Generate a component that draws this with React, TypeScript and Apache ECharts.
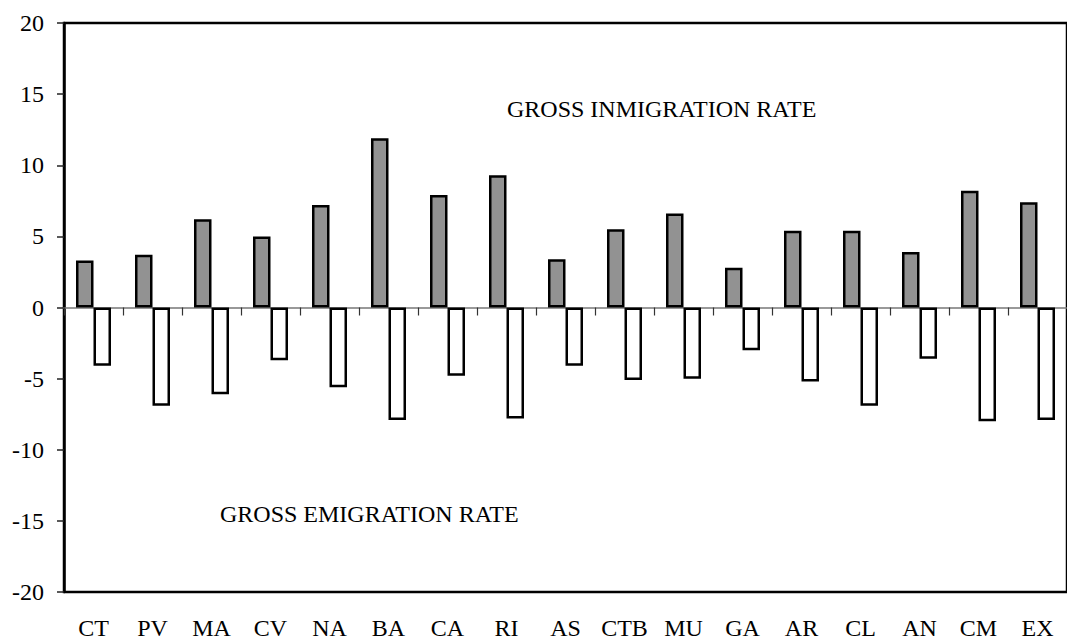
import React, { useEffect, useRef } from "react";
import * as echarts from "echarts";

const categories = ["CT", "PV", "MA", "CV", "NA", "BA", "CA", "RI", "AS", "CTB", "MU", "GA", "AR", "CL", "AN", "CM", "EX"];
const inmigration = [3.3, 3.7, 6.2, 5.0, 7.2, 11.9, 7.9, 9.3, 3.4, 5.5, 6.6, 2.8, 5.4, 5.4, 3.9, 8.2, 7.4];
const emigration = [-4.1, -6.9, -6.1, -3.7, -5.6, -7.9, -4.8, -7.8, -4.1, -5.1, -5.0, -3.0, -5.2, -6.9, -3.6, -8.0, -7.9];
const yTicks = { min: -20, max: 20, interval: 5 };
const inmigrationLabel = "GROSS INMIGRATION RATE";
const emigrationLabel = "GROSS EMIGRATION RATE";

const FONT = "'Liberation Serif', 'Times New Roman', serif";

export default function App() {
  const ref = useRef<HTMLDivElement>(null);
  useEffect(() => {
    if (!ref.current) return;
    const chart = echarts.init(ref.current, null, { renderer: "svg" });
    chart.setOption({
      animation: false,
      backgroundColor: "#ffffff",
      grid: {
        left: 64,
        top: 23,
        right: -10,
        bottom: 50,
        show: true,
        borderColor: "#000",
        borderWidth: 2.5,
        backgroundColor: "transparent",
      },
      xAxis: [
        {
          type: "category",
          data: categories,
          position: "bottom",
          axisLine: { onZero: true, lineStyle: { color: "#777", width: 1.5 } },
          axisTick: { show: true, length: 8, lineStyle: { color: "#333", width: 1.2 } },
          axisLabel: { show: false },
          splitLine: { show: false },
          z: 1,
        },
        {
          type: "category",
          data: categories,
          position: "bottom",
          axisLine: { show: false, onZero: false },
          axisTick: { show: false },
          axisLabel: { show: true, margin: 24, fontFamily: FONT, fontSize: 24, color: "#000", interval: 0 },
          splitLine: { show: false },
        },
      ],
      yAxis: {
        type: "value",
        min: yTicks.min,
        max: yTicks.max,
        interval: yTicks.interval,
        axisLine: { show: true, lineStyle: { color: "#000", width: 2.5 } },
        axisTick: { show: true, length: 7, lineStyle: { color: "#222", width: 1.5 } },
        axisLabel: { margin: 20, fontFamily: FONT, fontSize: 24, color: "#000" },
        splitLine: { show: false },
      },
      series: [
        {
          type: "bar",
          name: "inmigration",
          xAxisIndex: 0,
          data: inmigration,
          barWidth: 17.5,
          barGap: "0%",
          itemStyle: { color: "#929292", borderColor: "#000", borderWidth: 2.5 },
          z: 3,
        },
        {
          type: "bar",
          name: "emigration",
          xAxisIndex: 0,
          data: emigration,
          barWidth: 17.5,
          barGap: "0%",
          itemStyle: { color: "#fff", borderColor: "#000", borderWidth: 2.5 },
          z: 3,
        },
      ],
      graphic: [
        {
          type: "text",
          left: 507,
          top: 97,
          style: { text: inmigrationLabel, font: `24px ${FONT}`, fill: "#000" },
        },
        {
          type: "text",
          left: 220,
          top: 502,
          style: { text: emigrationLabel, font: `24px ${FONT}`, fill: "#000" },
        },
      ],
    });
    return () => chart.dispose();
  }, []);
  return <div ref={ref} style={{ position: "fixed", left: 0, top: 0, width: 1067, height: 642, background: "#fff" }} />;
}
